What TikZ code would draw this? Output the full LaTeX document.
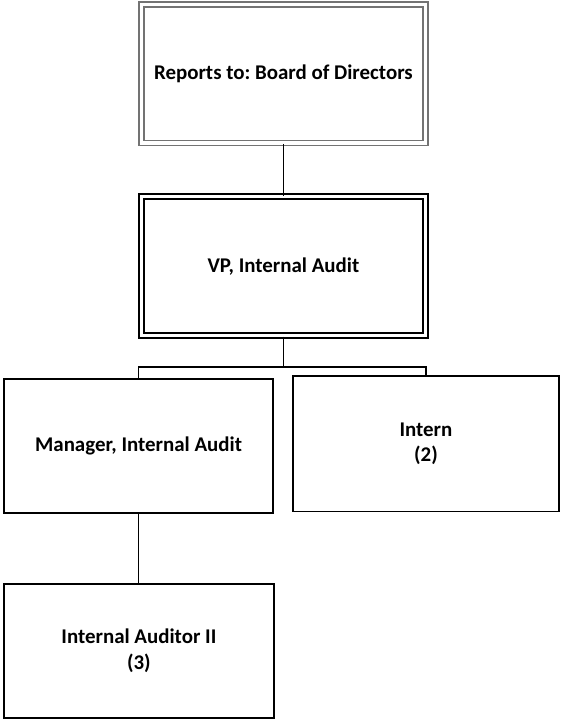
\documentclass[tikz,border=0pt]{standalone}
\usepackage{fontspec}
\setmainfont{Carlito}
\frenchspacing
\usetikzlibrary{positioning, calc}

\begin{document}
\begin{tikzpicture}[
  align=center,
  font=\fontsize{21}{26}\selectfont\bfseries,
  % Estilos de cajas
  box/.style={draw, rectangle, line width=1.8pt, fill=white, inner sep=0pt},
  dblbox/.style={box, double, line width=1.7bp, double distance=3.3bp},
  % Estilos de conectores
  line/.style={draw, line width=1.8pt}
]
  \useasboundingbox (0,0) rectangle (19.79,-25.44);

  % ==========================================
  % TOP LEVEL
  % ==========================================
  \node[dblbox, draw=black!55, minimum width=10.02cm, minimum height=4.89cm] (board) at (10.00,-2.60) {Reports to: Board of Directors};

  \node[dblbox, minimum width=10.02cm, minimum height=4.92cm] (vp) at (10.00,-9.39) {VP, Internal Audit};

  % ==========================================
  % SECOND LEVEL
  % ==========================================
  \node[box, minimum width=9.47cm, minimum height=4.72cm] (manager) at (4.89,-15.73) {Manager, Internal Audit};
  \node[box, minimum width=9.38cm, minimum height=4.78cm] (intern) at (15.03,-15.66) {Intern\\(2)};

  % ==========================================
  % THIRD LEVEL
  % ==========================================
  \node[box, minimum width=9.53cm, minimum height=4.73cm] (auditor) at (4.90,-22.97) {Internal Auditor II\\(3)};

  % Connections
  \coordinate (split) at (vp.south |- 0,-12.95);
  \draw[line] (board.south) -- (vp.north);
  \draw[line] (vp.south) -- (split);
  \draw[line] (manager.north) |- (split) -| (intern.north);
  \draw[line] (manager.south) -- (manager.south |- auditor.north);

\end{tikzpicture}
\end{document}
